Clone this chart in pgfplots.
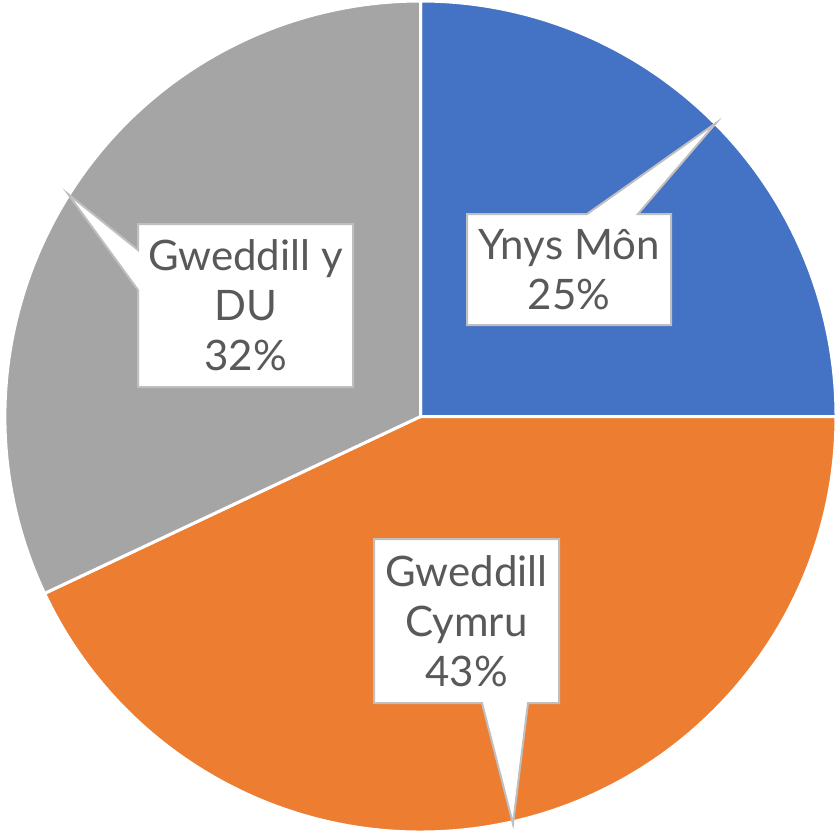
\documentclass[border=0pt]{standalone}
\usepackage{pgfplots}
\pgfplotsset{compat=1.18}
\usepackage{pgfplotstable}
\usepackage{fontspec}
\setmainfont{Lato}
\definecolor{cBlue}{HTML}{4472C4}
\definecolor{cOrange}{HTML}{ED7D31}
\definecolor{cGray}{HTML}{A5A5A5}
\definecolor{cText}{HTML}{595959}
\definecolor{cBorder}{HTML}{BFBFBF}

\pgfplotstableread{
label value
YnysMon 25
GweddillCymru 43
GweddillDU 32
}\piedata

\begin{document}
\begin{tikzpicture}
\pgfplotstablegetelem{0}{value}\of\piedata \pgfmathsetmacro{\va}{\pgfplotsretval}%
\pgfplotstablegetelem{1}{value}\of\piedata \pgfmathsetmacro{\vb}{\pgfplotsretval}%
\pgfplotstablegetelem{2}{value}\of\piedata \pgfmathsetmacro{\vc}{\pgfplotsretval}%
\pgfmathsetmacro{\aA}{90}%
\pgfmathsetmacro{\aB}{90-3.6*\va}%
\pgfmathsetmacro{\aC}{\aB-3.6*\vb}%
\pgfmathsetmacro{\aD}{\aC-3.6*\vc}%
\begin{axis}[hide axis, scale only axis, width=420bp, height=416bp,
  xmin=0, xmax=840, ymin=0, ymax=832, y dir=reverse, clip=false]
\coordinate (BL) at (axis cs:0,832);
\coordinate (TR) at (axis cs:840,0);
\def\R{207.75bp}
\fill[cBlue, draw=white, line width=1.5bp] (axis cs:420.5,416.5) -- ++(\aA:\R) arc[start angle=\aA, end angle=\aB, radius=\R] -- cycle;
\fill[cOrange, draw=white, line width=1.5bp] (axis cs:420.5,416.5) -- ++(\aB:\R) arc[start angle=\aB, end angle=\aC, radius=\R] -- cycle;
\fill[cGray, draw=white, line width=1.5bp] (axis cs:420.5,416.5) -- ++(\aC:\R) arc[start angle=\aC, end angle=\aD, radius=\R] -- cycle;
% callouts
\draw[cBorder, fill=white, line width=1bp, line join=miter]
  (axis cs:467,214) -- (axis cs:587,214) -- (axis cs:716,123) -- (axis cs:638,214)
  -- (axis cs:671,214) -- (axis cs:671,325) -- (axis cs:467,325) -- cycle;
\draw[cBorder, fill=white, line width=1bp, line join=miter]
  (axis cs:138,224) -- (axis cs:353,224) -- (axis cs:353,387) -- (axis cs:138,387)
  -- (axis cs:138,290) -- (axis cs:68,194) -- (axis cs:138,250) -- cycle;
\draw[cBorder, fill=white, line width=1bp, line join=miter]
  (axis cs:374,539) -- (axis cs:559,539) -- (axis cs:559,703) -- (axis cs:528,703)
  -- (axis cs:513,824) -- (axis cs:482,703) -- (axis cs:374,703) -- cycle;
\tikzset{lbl/.style={align=center, text=cText, inner sep=0pt, font=\fontsize{21bp}{25bp}\selectfont}}
\node[lbl] at (axis cs:569,270) {Ynys Môn\\25\%};
\node[lbl] at (axis cs:245.5,305) {Gweddill y\\DU\\32\%};
\node[lbl] at (axis cs:466.5,621) {Gweddill\\Cymru\\43\%};
\end{axis}
\pgfresetboundingbox
\path[use as bounding box] (BL) rectangle (TR);
\end{tikzpicture}
\end{document}
